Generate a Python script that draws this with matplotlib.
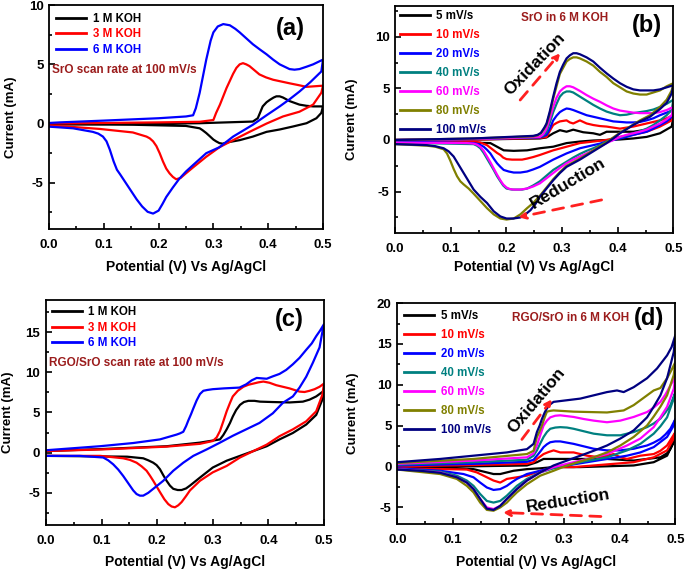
import matplotlib
matplotlib.use('Agg')
import matplotlib.pyplot as plt
from matplotlib.ticker import MultipleLocator

plt.rcParams['font.family'] = ['Liberation Sans', 'DejaVu Sans']
plt.rcParams['font.weight'] = 'bold'
plt.rcParams['axes.labelweight'] = 'bold'

# ---------------- panel (a): SrO, 100 mV/s, KOH concentration ----------------
a_labels = ['1 M KOH', '3 M KOH', '6 M KOH']

a_1M_fwd_v = [0.0, 0.1, 0.2, 0.275, 0.372, 0.381, 0.39, 0.397, 0.403, 0.41, 0.415, 0.421, 0.427, 0.433, 0.439, 0.448, 0.457, 0.47, 0.482, 0.5]
a_1M_fwd_i = [-0.05, -0.03, 0.0, 0.03, 0.17, 0.45, 1.45, 1.8, 2.0, 2.2, 2.3, 2.3, 2.2, 2.05, 1.9, 1.75, 1.6, 1.5, 1.45, 1.45]
a_1M_rev_v = [0.497, 0.488, 0.47, 0.445, 0.421, 0.397, 0.372, 0.348, 0.324, 0.317, 0.311, 0.305, 0.3, 0.293, 0.287, 0.28, 0.275, 0.25, 0.153, 0.0]
a_1M_rev_i = [0.9, 0.45, 0.03, -0.25, -0.5, -0.7, -1.1, -1.4, -1.6, -1.7, -1.65, -1.5, -1.35, -1.05, -0.8, -0.55, -0.4, -0.2, -0.1, -0.05]

a_3M_fwd_v = [0.0, 0.1, 0.2, 0.275, 0.3, 0.305, 0.312, 0.318, 0.324, 0.33, 0.336, 0.342, 0.348, 0.354, 0.36, 0.366, 0.375, 0.384, 0.396, 0.409, 0.424, 0.439, 0.455, 0.47, 0.485, 0.5]
a_3M_fwd_i = [0.0, 0.05, 0.1, 0.15, 0.3, 0.9, 1.6, 2.3, 3.0, 3.6, 4.2, 4.7, 5.0, 5.1, 5.0, 4.85, 4.5, 4.15, 3.9, 3.7, 3.55, 3.4, 3.25, 3.1, 3.15, 3.2]
a_3M_rev_v = [0.497, 0.482, 0.457, 0.427, 0.397, 0.366, 0.336, 0.311, 0.287, 0.263, 0.25, 0.24, 0.232, 0.226, 0.22, 0.214, 0.208, 0.202, 0.196, 0.19, 0.184, 0.178, 0.153, 0.092, 0.032, 0.0]
a_3M_rev_i = [2.6, 1.6, 1.0, 0.6, 0.0, -0.7, -1.4, -2.0, -2.8, -3.7, -4.2, -4.6, -4.7, -4.5, -4.2, -3.8, -3.2, -2.5, -1.9, -1.5, -1.25, -1.1, -0.75, -0.45, -0.25, -0.2]

a_6M_fwd_v = [0.0, 0.02, 0.1, 0.2, 0.25, 0.263, 0.268, 0.275, 0.281, 0.287, 0.295, 0.3, 0.308, 0.318, 0.33, 0.34, 0.348, 0.36, 0.372, 0.385, 0.397, 0.409, 0.421, 0.43, 0.439, 0.448, 0.457, 0.47, 0.482, 0.5]
a_6M_fwd_i = [0.05, 0.1, 0.25, 0.45, 0.6, 0.7, 1.3, 2.6, 4.0, 5.4, 7.0, 7.7, 8.2, 8.4, 8.3, 8.0, 7.7, 7.2, 6.7, 6.25, 5.85, 5.4, 5.0, 4.8, 4.6, 4.55, 4.6, 4.8, 5.0, 5.4]
a_6M_rev_v = [0.497, 0.477, 0.457, 0.439, 0.421, 0.397, 0.372, 0.336, 0.311, 0.287, 0.263, 0.25, 0.238, 0.226, 0.214, 0.207, 0.2, 0.19, 0.18, 0.17, 0.16, 0.15, 0.14, 0.13, 0.124, 0.118, 0.111, 0.105, 0.0985, 0.09, 0.08, 0.044, 0.0]
a_6M_rev_i = [4.4, 3.5, 2.7, 2.05, 1.45, 0.7, -0.1, -1.1, -2.0, -2.5, -3.5, -4.05, -4.65, -5.4, -6.2, -6.8, -7.35, -7.6, -7.45, -7.0, -6.4, -5.7, -5.0, -4.3, -3.9, -3.2, -2.2, -1.5, -1.1, -0.85, -0.7, -0.4, -0.26]

# ---------------- panel (b): SrO in 6 M KOH, scan rates ----------------
rate_labels = ['5 mV/s', '10 mV/s', '20 mV/s', '40 mV/s', '60 mV/s', '80 mV/s', '100 mV/s']

b_5_fwd_v = [0.0, 0.15, 0.26, 0.272, 0.284, 0.296, 0.308, 0.32, 0.338, 0.356, 0.368, 0.38, 0.404, 0.428, 0.452, 0.476, 0.488, 0.5]
b_5_fwd_i = [0.0, 0.05, 0.15, 0.25, 0.65, 0.95, 0.8, 1.0, 0.75, 0.65, 0.5, 0.8, 0.8, 0.8, 1.0, 1.45, 1.8, 2.25]
b_5_rev_v = [0.497, 0.476, 0.452, 0.428, 0.404, 0.38, 0.356, 0.332, 0.308, 0.284, 0.26, 0.237, 0.213, 0.195, 0.183, 0.171, 0.0]
b_5_rev_i = [1.3, 0.65, 0.3, 0.15, 0.05, 0.0, -0.05, -0.15, -0.3, -0.65, -0.8, -1.0, -1.05, -1.0, -0.65, -0.3, -0.1]

b_10_fwd_v = [0.0, 0.15, 0.26, 0.266, 0.272, 0.278, 0.284, 0.29, 0.296, 0.302, 0.308, 0.314, 0.32, 0.326, 0.332, 0.344, 0.356, 0.368, 0.38, 0.392, 0.404, 0.416, 0.428, 0.44, 0.452, 0.464, 0.476, 0.488, 0.5]
b_10_fwd_i = [0.0, 0.05, 0.2, 0.25, 0.3, 0.9, 1.45, 1.65, 1.8, 1.85, 1.9, 1.7, 1.6, 1.75, 1.9, 1.6, 1.45, 1.35, 1.3, 1.2, 1.1, 1.2, 1.3, 1.45, 1.6, 1.75, 1.9, 2.1, 2.4]
b_10_rev_v = [0.497, 0.476, 0.452, 0.428, 0.404, 0.38, 0.356, 0.332, 0.308, 0.284, 0.26, 0.248, 0.237, 0.228, 0.219, 0.21, 0.2, 0.194, 0.189, 0.183, 0.177, 0.171, 0.165, 0.153, 0.141, 0.0]
b_10_rev_i = [1.9, 1.3, 0.8, 0.5, 0.3, 0.0, -0.15, -0.3, -0.65, -1.0, -1.45, -1.65, -1.8, -1.9, -1.9, -1.9, -1.85, -1.7, -1.45, -1.25, -1.0, -0.75, -0.5, -0.25, -0.15, -0.15]

b_20_fwd_v = [0.0, 0.15, 0.26, 0.266, 0.272, 0.278, 0.284, 0.29, 0.296, 0.302, 0.308, 0.314, 0.32, 0.332, 0.344, 0.356, 0.368, 0.38, 0.392, 0.404, 0.416, 0.428, 0.44, 0.452, 0.464, 0.476, 0.488, 0.5]
b_20_fwd_i = [0.0, 0.1, 0.25, 0.35, 0.5, 1.1, 1.9, 2.35, 2.7, 2.9, 3.05, 3.0, 2.9, 2.65, 2.4, 2.25, 2.1, 1.95, 1.8, 1.75, 1.7, 1.7, 1.75, 1.9, 2.1, 2.4, 2.65, 2.9]
b_20_rev_v = [0.497, 0.488, 0.476, 0.464, 0.452, 0.44, 0.428, 0.416, 0.404, 0.392, 0.38, 0.368, 0.356, 0.344, 0.332, 0.32, 0.308, 0.296, 0.284, 0.272, 0.26, 0.248, 0.237, 0.225, 0.213, 0.204, 0.195, 0.189, 0.183, 0.177, 0.171, 0.165, 0.159, 0.15, 0.14, 0.0]
b_20_rev_i = [2.25, 1.8, 1.45, 1.1, 0.8, 0.65, 0.5, 0.3, 0.15, 0.0, -0.15, -0.35, -0.5, -0.65, -0.8, -1.05, -1.3, -1.6, -1.9, -2.25, -2.6, -2.85, -3.05, -3.15, -3.15, -3.05, -2.9, -2.6, -2.25, -1.8, -1.3, -0.95, -0.65, -0.4, -0.3, -0.15]

b_40_fwd_v = [0.0, 0.15, 0.26, 0.266, 0.272, 0.278, 0.284, 0.29, 0.296, 0.302, 0.308, 0.314, 0.32, 0.332, 0.344, 0.356, 0.368, 0.38, 0.392, 0.404, 0.416, 0.428, 0.44, 0.452, 0.464, 0.476, 0.488, 0.5]
b_40_fwd_i = [0.0, 0.1, 0.3, 0.45, 0.8, 1.7, 2.7, 3.5, 4.2, 4.55, 4.7, 4.7, 4.6, 4.2, 3.8, 3.4, 3.05, 2.75, 2.55, 2.4, 2.45, 2.6, 2.7, 2.8, 2.95, 3.2, 3.5, 3.9]
b_40_rev_v = [0.497, 0.488, 0.476, 0.464, 0.452, 0.44, 0.428, 0.416, 0.404, 0.392, 0.38, 0.368, 0.356, 0.344, 0.332, 0.32, 0.308, 0.296, 0.284, 0.272, 0.26, 0.248, 0.237, 0.228, 0.219, 0.21, 0.2, 0.194, 0.189, 0.183, 0.177, 0.171, 0.165, 0.159, 0.153, 0.147, 0.141, 0.0]
b_40_rev_i = [2.9, 2.4, 1.9, 1.45, 1.1, 0.85, 0.65, 0.45, 0.25, 0.05, -0.15, -0.5, -0.8, -1.05, -1.35, -1.7, -2.1, -2.5, -2.9, -3.45, -4.0, -4.4, -4.7, -4.8, -4.8, -4.8, -4.7, -4.4, -4.0, -3.5, -2.9, -2.35, -1.8, -1.25, -0.8, -0.55, -0.4, -0.25]

b_60_fwd_v = [0.0, 0.15, 0.26, 0.266, 0.272, 0.278, 0.284, 0.29, 0.296, 0.302, 0.308, 0.314, 0.32, 0.332, 0.344, 0.356, 0.368, 0.38, 0.392, 0.404, 0.416, 0.428, 0.44, 0.452, 0.464, 0.476, 0.488, 0.5]
b_60_fwd_i = [0.0, 0.1, 0.3, 0.55, 1.1, 2.1, 3.2, 4.1, 4.7, 5.0, 5.2, 5.2, 5.1, 4.75, 4.35, 4.0, 3.7, 3.35, 3.05, 2.85, 2.75, 2.65, 2.6, 2.6, 2.6, 2.7, 2.9, 3.2]
b_60_rev_v = [0.497, 0.488, 0.476, 0.464, 0.452, 0.44, 0.428, 0.416, 0.404, 0.392, 0.38, 0.368, 0.356, 0.344, 0.332, 0.32, 0.308, 0.296, 0.284, 0.272, 0.26, 0.248, 0.237, 0.225, 0.213, 0.206, 0.2, 0.194, 0.189, 0.183, 0.177, 0.171, 0.165, 0.159, 0.153, 0.147, 0.141, 0.129, 0.0]
b_60_rev_i = [2.4, 2.0, 1.6, 1.3, 1.0, 0.8, 0.65, 0.5, 0.3, 0.0, -0.3, -0.65, -1.0, -1.3, -1.6, -1.9, -2.25, -2.7, -3.2, -3.7, -4.2, -4.5, -4.7, -4.8, -4.8, -4.75, -4.6, -4.3, -3.9, -3.35, -2.75, -2.15, -1.6, -1.05, -0.65, -0.45, -0.35, -0.3, -0.25]

b_80_fwd_v = [0.0, 0.141, 0.248, 0.256, 0.262, 0.268, 0.272, 0.278, 0.284, 0.29, 0.296, 0.302, 0.308, 0.314, 0.32, 0.326, 0.332, 0.344, 0.356, 0.368, 0.38, 0.392, 0.404, 0.416, 0.428, 0.44, 0.452, 0.464, 0.476, 0.488, 0.5]
b_80_fwd_i = [0.0, 0.15, 0.35, 0.45, 0.65, 1.1, 1.5, 2.6, 4.0, 5.2, 6.4, 7.0, 7.6, 7.85, 8.0, 8.0, 7.9, 7.6, 7.2, 6.6, 6.1, 5.5, 5.1, 4.7, 4.5, 4.4, 4.4, 4.6, 4.8, 5.2, 5.5]
b_80_rev_v = [0.497, 0.488, 0.476, 0.458, 0.44, 0.428, 0.416, 0.404, 0.392, 0.38, 0.368, 0.356, 0.344, 0.332, 0.32, 0.308, 0.296, 0.284, 0.272, 0.26, 0.248, 0.237, 0.225, 0.213, 0.2, 0.189, 0.177, 0.165, 0.153, 0.141, 0.132, 0.123, 0.117, 0.111, 0.105, 0.099, 0.093, 0.087, 0.072, 0.057, 0.0]
b_80_rev_i = [4.8, 3.9, 3.2, 2.4, 1.9, 1.5, 1.1, 0.7, 0.25, -0.2, -0.6, -1.0, -1.4, -1.8, -2.15, -2.5, -3.1, -3.8, -4.6, -5.4, -6.1, -6.6, -7.2, -7.6, -7.7, -7.6, -7.2, -6.6, -5.9, -5.2, -4.7, -4.3, -4.0, -3.5, -2.8, -2.0, -1.3, -0.9, -0.65, -0.55, -0.4]

b_100_fwd_v = [0.0, 0.141, 0.248, 0.256, 0.262, 0.268, 0.272, 0.278, 0.284, 0.29, 0.296, 0.302, 0.308, 0.314, 0.32, 0.326, 0.332, 0.344, 0.356, 0.368, 0.38, 0.392, 0.404, 0.416, 0.428, 0.44, 0.452, 0.464, 0.476, 0.488, 0.5]
b_100_fwd_i = [0.0, 0.15, 0.4, 0.5, 0.7, 1.2, 1.6, 2.8, 4.2, 5.5, 6.6, 7.3, 7.9, 8.2, 8.4, 8.4, 8.3, 8.0, 7.6, 7.0, 6.45, 5.95, 5.5, 5.15, 4.9, 4.8, 4.8, 4.8, 4.9, 5.1, 5.3]
b_100_rev_v = [0.497, 0.488, 0.476, 0.458, 0.44, 0.428, 0.416, 0.404, 0.392, 0.38, 0.368, 0.356, 0.344, 0.332, 0.32, 0.308, 0.296, 0.284, 0.272, 0.26, 0.252, 0.243, 0.234, 0.225, 0.212, 0.2, 0.189, 0.177, 0.165, 0.153, 0.141, 0.132, 0.123, 0.114, 0.105, 0.096, 0.087, 0.072, 0.057, 0.0]
b_100_rev_i = [4.5, 3.6, 3.0, 2.25, 1.8, 1.45, 1.05, 0.65, 0.15, -0.3, -0.7, -1.1, -1.5, -1.9, -2.25, -2.6, -3.2, -3.9, -4.7, -5.5, -6.2, -6.8, -7.2, -7.5, -7.6, -7.6, -7.4, -6.9, -6.1, -5.5, -4.8, -4.0, -3.2, -2.4, -1.6, -1.1, -0.8, -0.6, -0.5, -0.4]

# ---------------- panel (c): RGO/SrO, 100 mV/s, KOH concentration ----------------
c_1M_fwd_v = [0.0, 0.1, 0.217, 0.277, 0.313, 0.319, 0.325, 0.331, 0.336, 0.342, 0.349, 0.356, 0.364, 0.375, 0.385, 0.408, 0.438, 0.462, 0.474, 0.486, 0.5]
c_1M_fwd_i = [0.2, 0.45, 0.8, 1.25, 1.65, 2.2, 2.9, 3.7, 4.5, 5.3, 5.95, 6.3, 6.45, 6.45, 6.35, 6.3, 6.25, 6.35, 6.6, 7.0, 7.7]
c_1M_rev_v = [0.497, 0.486, 0.468, 0.444, 0.42, 0.397, 0.373, 0.349, 0.325, 0.3, 0.277, 0.259, 0.252, 0.244, 0.237, 0.229, 0.223, 0.217, 0.211, 0.205, 0.199, 0.193, 0.184, 0.175, 0.146, 0.0]
c_1M_rev_i = [6.6, 4.7, 3.5, 2.45, 1.65, 0.8, 0.2, -0.4, -1.0, -1.85, -3.1, -4.1, -4.45, -4.65, -4.65, -4.5, -4.1, -3.5, -2.8, -2.05, -1.55, -1.25, -0.95, -0.7, -0.5, -0.4]

c_3M_fwd_v = [0.0, 0.1, 0.217, 0.277, 0.3, 0.307, 0.313, 0.319, 0.325, 0.331, 0.336, 0.345, 0.355, 0.364, 0.373, 0.382, 0.391, 0.402, 0.414, 0.426, 0.438, 0.456, 0.465, 0.474, 0.483, 0.492, 0.5]
c_3M_fwd_i = [0.2, 0.4, 0.75, 1.1, 1.45, 1.9, 2.7, 3.9, 5.15, 6.2, 7.0, 7.7, 8.2, 8.45, 8.6, 8.75, 8.85, 8.7, 8.4, 8.2, 8.0, 7.6, 7.55, 7.7, 7.9, 8.2, 8.6]
c_3M_rev_v = [0.497, 0.486, 0.468, 0.444, 0.42, 0.397, 0.373, 0.349, 0.325, 0.3, 0.277, 0.259, 0.252, 0.244, 0.238, 0.232, 0.226, 0.22, 0.213, 0.205, 0.199, 0.193, 0.187, 0.181, 0.172, 0.163, 0.151, 0.139, 0.098, 0.0]
c_3M_rev_i = [7.2, 5.15, 3.9, 2.9, 2.05, 1.0, 0.2, -0.6, -1.65, -2.45, -3.5, -4.7, -5.4, -6.15, -6.55, -6.8, -6.7, -6.4, -5.8, -4.9, -4.2, -3.5, -2.85, -2.25, -1.7, -1.25, -0.9, -0.7, -0.4, -0.4]

c_6M_fwd_v = [0.0, 0.097, 0.157, 0.205, 0.235, 0.241, 0.247, 0.252, 0.256, 0.261, 0.265, 0.271, 0.277, 0.283, 0.29, 0.3, 0.32, 0.348, 0.36, 0.37, 0.379, 0.388, 0.397, 0.408, 0.42, 0.432, 0.444, 0.456, 0.468, 0.478, 0.486, 0.493, 0.5]
c_6M_fwd_i = [0.3, 0.8, 1.2, 1.65, 2.25, 2.4, 2.6, 3.3, 4.0, 4.8, 5.5, 6.5, 7.3, 7.7, 7.8, 7.9, 8.0, 8.1, 8.5, 9.0, 9.3, 9.25, 9.2, 9.5, 9.8, 10.3, 11.0, 11.8, 12.8, 13.6, 14.5, 15.2, 16.0]
c_6M_rev_v = [0.497, 0.492, 0.48, 0.468, 0.456, 0.444, 0.426, 0.408, 0.384, 0.36, 0.336, 0.313, 0.289, 0.265, 0.247, 0.229, 0.211, 0.202, 0.193, 0.184, 0.175, 0.169, 0.163, 0.157, 0.151, 0.145, 0.139, 0.13, 0.121, 0.112, 0.103, 0.061, 0.0]
c_6M_rev_i = [15.0, 13.1, 11.2, 9.45, 8.1, 7.0, 6.2, 4.9, 3.7, 2.9, 2.1, 1.25, 0.4, -0.4, -1.25, -2.25, -3.5, -4.0, -4.5, -5.0, -5.35, -5.35, -5.15, -4.7, -4.1, -3.5, -2.9, -2.1, -1.45, -0.95, -0.6, -0.4, -0.4]

# ---------------- panel (d): RGO/SrO in 6 M KOH, scan rates ----------------
d_5_fwd_v = [0.0, 0.137, 0.233, 0.251, 0.263, 0.317, 0.377, 0.425, 0.449, 0.473, 0.485, 0.491, 0.5]
d_5_fwd_i = [-0.1, 0.0, 0.1, 0.5, 0.9, 0.9, 0.9, 0.7, 0.9, 1.1, 1.6, 2.15, 3.4]
d_5_rev_v = [0.497, 0.485, 0.461, 0.425, 0.377, 0.329, 0.281, 0.257, 0.233, 0.209, 0.197, 0.185, 0.173, 0.161, 0.137, 0.0]
d_5_rev_i = [3.0, 1.3, 0.5, 0.1, 0.0, -0.1, -0.1, -0.25, -0.35, -0.55, -0.75, -0.95, -0.95, -0.75, -0.35, -0.1]

d_10_fwd_v = [0.0, 0.137, 0.233, 0.245, 0.251, 0.257, 0.263, 0.272, 0.281, 0.293, 0.317, 0.341, 0.365, 0.389, 0.401, 0.413, 0.437, 0.461, 0.473, 0.485, 0.5]
d_10_fwd_i = [0.0, 0.15, 0.3, 0.5, 0.9, 1.2, 1.5, 1.75, 1.95, 1.7, 1.7, 1.3, 1.1, 1.5, 1.1, 0.9, 1.3, 1.5, 1.9, 2.55, 4.2]
d_10_rev_v = [0.497, 0.485, 0.461, 0.425, 0.389, 0.353, 0.317, 0.281, 0.257, 0.233, 0.215, 0.197, 0.185, 0.173, 0.161, 0.143, 0.125, 0.0]
d_10_rev_i = [3.4, 1.95, 1.1, 0.5, 0.3, 0.1, -0.1, -0.1, -0.55, -1.15, -1.35, -1.55, -2.0, -1.75, -1.35, -0.75, -0.4, -0.25]

d_20_fwd_v = [0.0, 0.137, 0.233, 0.245, 0.251, 0.257, 0.263, 0.269, 0.275, 0.284, 0.293, 0.305, 0.317, 0.335, 0.353, 0.377, 0.401, 0.425, 0.449, 0.461, 0.473, 0.482, 0.491, 0.5]
d_20_fwd_i = [0.1, 0.3, 0.55, 0.8, 1.3, 1.8, 2.35, 2.7, 2.95, 3.05, 3.05, 2.9, 2.75, 2.45, 2.15, 1.95, 1.95, 2.15, 2.55, 2.9, 3.35, 3.9, 4.6, 5.8]
d_20_rev_v = [0.497, 0.485, 0.461, 0.437, 0.413, 0.377, 0.341, 0.305, 0.281, 0.257, 0.233, 0.215, 0.206, 0.197, 0.185, 0.173, 0.161, 0.149, 0.137, 0.119, 0.077, 0.0]
d_20_rev_i = [5.0, 3.6, 2.35, 1.7, 1.3, 0.9, 0.5, 0.1, -0.1, -0.55, -0.95, -1.55, -1.95, -2.4, -2.8, -2.9, -2.6, -2.0, -1.35, -0.95, -0.55, -0.25]

d_40_fwd_v = [0.0, 0.137, 0.233, 0.245, 0.251, 0.257, 0.263, 0.269, 0.275, 0.284, 0.293, 0.305, 0.317, 0.335, 0.353, 0.377, 0.401, 0.425, 0.449, 0.461, 0.473, 0.482, 0.491, 0.5]
d_40_fwd_i = [0.2, 0.5, 0.8, 1.3, 1.95, 2.8, 3.6, 4.2, 4.6, 4.75, 4.8, 4.75, 4.6, 4.3, 4.0, 3.8, 3.8, 4.2, 4.8, 5.25, 5.85, 6.6, 7.5, 9.1]
d_40_rev_v = [0.497, 0.485, 0.473, 0.461, 0.437, 0.413, 0.377, 0.353, 0.329, 0.305, 0.281, 0.257, 0.233, 0.215, 0.206, 0.197, 0.185, 0.173, 0.161, 0.149, 0.137, 0.125, 0.107, 0.077, 0.0]
d_40_rev_i = [8.3, 6.0, 4.9, 4.0, 2.75, 1.95, 1.1, 0.8, 0.5, 0.1, -0.25, -0.75, -1.55, -2.4, -3.0, -3.6, -4.25, -4.45, -4.25, -3.4, -2.4, -1.75, -1.15, -0.65, -0.35]

d_60_fwd_v = [0.0, 0.137, 0.233, 0.245, 0.251, 0.257, 0.263, 0.269, 0.275, 0.284, 0.293, 0.305, 0.317, 0.335, 0.353, 0.377, 0.401, 0.425, 0.449, 0.461, 0.473, 0.482, 0.491, 0.5]
d_60_fwd_i = [0.3, 0.7, 1.1, 1.6, 2.55, 3.8, 5.0, 5.6, 6.0, 6.2, 6.25, 6.15, 6.05, 5.8, 5.6, 5.4, 5.6, 6.05, 6.65, 7.2, 7.9, 8.8, 9.9, 11.0]
d_60_rev_v = [0.497, 0.485, 0.473, 0.461, 0.437, 0.413, 0.377, 0.353, 0.329, 0.305, 0.281, 0.257, 0.233, 0.215, 0.206, 0.197, 0.185, 0.173, 0.161, 0.149, 0.137, 0.125, 0.107, 0.077, 0.0]
d_60_rev_i = [9.5, 7.3, 6.0, 4.8, 3.4, 2.55, 1.5, 1.1, 0.7, 0.3, -0.1, -0.75, -1.75, -2.8, -3.4, -4.0, -4.85, -5.25, -5.05, -4.0, -2.8, -2.0, -1.35, -0.75, -0.35]

d_80_fwd_v = [0.0, 0.137, 0.233, 0.245, 0.251, 0.256, 0.26, 0.265, 0.269, 0.275, 0.281, 0.317, 0.347, 0.377, 0.407, 0.425, 0.437, 0.449, 0.461, 0.473, 0.485, 0.493, 0.5]
d_80_fwd_i = [0.4, 0.9, 1.5, 1.9, 3.6, 4.3, 5.0, 6.0, 6.7, 6.8, 6.85, 6.7, 6.65, 6.6, 6.85, 7.5, 8.1, 8.7, 9.3, 9.6, 10.8, 11.8, 12.8]
d_80_rev_v = [0.497, 0.485, 0.473, 0.461, 0.449, 0.425, 0.401, 0.377, 0.353, 0.329, 0.305, 0.281, 0.257, 0.233, 0.215, 0.206, 0.197, 0.185, 0.173, 0.161, 0.149, 0.137, 0.125, 0.107, 0.077, 0.0]
d_80_rev_i = [11.2, 8.7, 7.3, 6.1, 5.0, 3.6, 2.55, 1.7, 1.1, 0.6, 0.1, -0.55, -1.15, -2.2, -3.2, -3.8, -4.45, -5.05, -5.45, -5.35, -4.45, -3.2, -2.4, -1.55, -0.95, -0.4]

d_100_fwd_v = [0.0, 0.077, 0.137, 0.197, 0.233, 0.245, 0.251, 0.256, 0.26, 0.265, 0.269, 0.275, 0.281, 0.305, 0.329, 0.353, 0.377, 0.395, 0.407, 0.425, 0.449, 0.467, 0.485, 0.493, 0.5]
d_100_fwd_i = [0.5, 0.9, 1.3, 1.7, 2.1, 2.75, 4.2, 5.0, 5.8, 6.6, 7.1, 7.6, 7.9, 8.1, 8.3, 8.7, 9.1, 9.3, 9.1, 9.7, 10.8, 12.0, 13.6, 14.6, 16.1]
d_100_rev_v = [0.497, 0.485, 0.473, 0.461, 0.449, 0.425, 0.401, 0.377, 0.353, 0.329, 0.305, 0.281, 0.257, 0.233, 0.215, 0.206, 0.197, 0.185, 0.173, 0.161, 0.149, 0.137, 0.125, 0.107, 0.077, 0.041, 0.0]
d_100_rev_i = [14.0, 10.8, 8.7, 7.3, 6.0, 4.4, 3.4, 2.55, 1.9, 1.3, 0.7, 0.1, -0.75, -1.75, -2.8, -3.4, -4.0, -4.85, -5.35, -5.2, -4.0, -2.8, -2.0, -1.35, -0.8, -0.55, -0.4]

conc_colors = ['black', 'red', 'blue']
rate_colors = ['black', 'red', 'blue', '#008080', 'magenta', '#808000', '#000080']
note_color = '#9b1c1c'

a_curves = [(a_1M_fwd_v, a_1M_fwd_i, a_1M_rev_v, a_1M_rev_i),
            (a_3M_fwd_v, a_3M_fwd_i, a_3M_rev_v, a_3M_rev_i),
            (a_6M_fwd_v, a_6M_fwd_i, a_6M_rev_v, a_6M_rev_i)]
b_curves = [(b_5_fwd_v, b_5_fwd_i, b_5_rev_v, b_5_rev_i),
            (b_10_fwd_v, b_10_fwd_i, b_10_rev_v, b_10_rev_i),
            (b_20_fwd_v, b_20_fwd_i, b_20_rev_v, b_20_rev_i),
            (b_40_fwd_v, b_40_fwd_i, b_40_rev_v, b_40_rev_i),
            (b_60_fwd_v, b_60_fwd_i, b_60_rev_v, b_60_rev_i),
            (b_80_fwd_v, b_80_fwd_i, b_80_rev_v, b_80_rev_i),
            (b_100_fwd_v, b_100_fwd_i, b_100_rev_v, b_100_rev_i)]
c_curves = [(c_1M_fwd_v, c_1M_fwd_i, c_1M_rev_v, c_1M_rev_i),
            (c_3M_fwd_v, c_3M_fwd_i, c_3M_rev_v, c_3M_rev_i),
            (c_6M_fwd_v, c_6M_fwd_i, c_6M_rev_v, c_6M_rev_i)]
d_curves = [(d_5_fwd_v, d_5_fwd_i, d_5_rev_v, d_5_rev_i),
            (d_10_fwd_v, d_10_fwd_i, d_10_rev_v, d_10_rev_i),
            (d_20_fwd_v, d_20_fwd_i, d_20_rev_v, d_20_rev_i),
            (d_40_fwd_v, d_40_fwd_i, d_40_rev_v, d_40_rev_i),
            (d_60_fwd_v, d_60_fwd_i, d_60_rev_v, d_60_rev_i),
            (d_80_fwd_v, d_80_fwd_i, d_80_rev_v, d_80_rev_i),
            (d_100_fwd_v, d_100_fwd_i, d_100_rev_v, d_100_rev_i)]


def draw_cv(ax, curves, labels, colors):
    # forward (anodic) sweep then reverse (cathodic) sweep -> one closed loop
    for (fv, fi, rv, ri), lab, col in zip(curves, labels, colors):
        ax.plot(list(fv) + list(rv), list(fi) + list(ri), color=col, lw=1.6,
                label=lab, solid_joinstyle='round')


def style_axes(ax, ylim, ylab_x, xlab_y):
    ax.set_xlim(0, 0.5)
    ax.set_ylim(*ylim)
    ax.xaxis.set_major_locator(MultipleLocator(0.1))
    ax.xaxis.set_minor_locator(MultipleLocator(0.05))
    ax.yaxis.set_major_locator(MultipleLocator(5))
    ax.yaxis.set_minor_locator(MultipleLocator(2.5))
    ax.tick_params(which='both', direction='in', width=1.2, labelsize=9.5)
    ax.tick_params(which='major', length=4)
    ax.tick_params(which='minor', length=2)
    ax.tick_params(axis='x', which='both', pad=7)
    ax.tick_params(axis='y', which='both', pad=4)
    ax.xaxis.set_major_formatter(plt.FormatStrFormatter('%.1f'))
    ax.yaxis.set_major_formatter(plt.FormatStrFormatter('%g'))
    for s in ax.spines.values():
        s.set_linewidth(1.3)
    ax.set_xlabel('Potential (V) Vs Ag/AgCl', fontsize=10, va='center')
    ax.set_ylabel('Current (mA)', fontsize=9.5, va='center')
    ax.xaxis.set_label_coords(0.5, xlab_y)
    ax.yaxis.set_label_coords(ylab_x, 0.5)


def add_legend(ax, spacing, pad):
    leg = ax.legend(loc='upper left', frameon=False, fontsize=8.3, handlelength=2.6,
                    handletextpad=0.55, labelspacing=spacing, borderaxespad=pad,
                    borderpad=0.3, labelcolor='linecolor')
    for line in leg.get_lines():
        line.set_linewidth(2)


def dashed_arrow(ax, start, end):
    ax.annotate('', xy=end, xytext=start,
                arrowprops=dict(arrowstyle='-|>', color='#ff2020', lw=2,
                                linestyle=(0, (4, 3)), mutation_scale=10,
                                shrinkA=0, shrinkB=0))


fig = plt.figure(figsize=(6.85, 5.71), dpi=100)
ax_a = fig.add_axes([0.0715, 0.599, 0.400, 0.392])
ax_b = fig.add_axes([0.577, 0.592, 0.406, 0.398])
ax_c = fig.add_axes([0.067, 0.0806, 0.406, 0.394])
ax_d = fig.add_axes([0.580, 0.082, 0.406, 0.387])

# (a)
draw_cv(ax_a, a_curves, a_labels, conc_colors)
style_axes(ax_a, (-8.9, 10), -0.139, -0.17)
add_legend(ax_a, 0.33, 0.35)
ax_a.text(0.006, 4.5, 'SrO scan rate at 100 mV/s', color=note_color, fontsize=8.5, va='center')
ax_a.text(0.44, 8.05, '(a)', fontsize=17, ha='center', va='center')

# (b)
draw_cv(ax_b, b_curves, rate_labels, rate_colors)
style_axes(ax_b, (-9, 13), -0.155, -0.15)
add_legend(ax_b, 0.6, 0.1)
ax_b.text(0.305, 11.8, 'SrO in 6 M KOH', color=note_color, fontsize=8.5, ha='center', va='center')
ax_b.text(0.452, 11.1, '(b)', fontsize=17, ha='center', va='center')
ax_b.text(0.251, 7.4, 'Oxidation', fontsize=12.5, rotation=46, ha='center', va='center')
dashed_arrow(ax_b, (0.2246, 3.87), (0.2964, 8.39))
ax_b.text(0.311, -4.2, 'Reduction', fontsize=12.5, rotation=31, ha='center', va='center')
dashed_arrow(ax_b, (0.371, -5.8), (0.2216, -7.48))

# (c)
draw_cv(ax_c, c_curves, a_labels, conc_colors)
style_axes(ax_c, (-9, 19), -0.137, -0.164)
add_legend(ax_c, 0.33, 0.2)
ax_c.text(0.006, 11.1, 'RGO/SrO scan rate at 100 mV/s', color=note_color, fontsize=8.5, va='center')
ax_c.text(0.438, 16.6, '(c)', fontsize=17, ha='center', va='center')

# (d)
draw_cv(ax_d, d_curves, rate_labels, rate_colors)
style_axes(ax_d, (-7.1, 20), -0.158, -0.172)
add_legend(ax_d, 0.6, 0.3)
ax_d.text(0.311, 18.15, 'RGO/SrO in 6 M KOH', color=note_color, fontsize=8.5, ha='center', va='center')
ax_d.text(0.452, 18.15, '(d)', fontsize=17, ha='center', va='center')
ax_d.text(0.251, 8.1, 'Oxidation', fontsize=12.5, rotation=50, ha='center', va='center')
dashed_arrow(ax_d, (0.224, 3.3), (0.278, 8.2))
ax_d.text(0.308, -4.2, 'Reduction', fontsize=12.5, rotation=9, ha='center', va='center')
dashed_arrow(ax_d, (0.366, -6.16), (0.19, -5.67))

fig.savefig('out.png', dpi=100)
